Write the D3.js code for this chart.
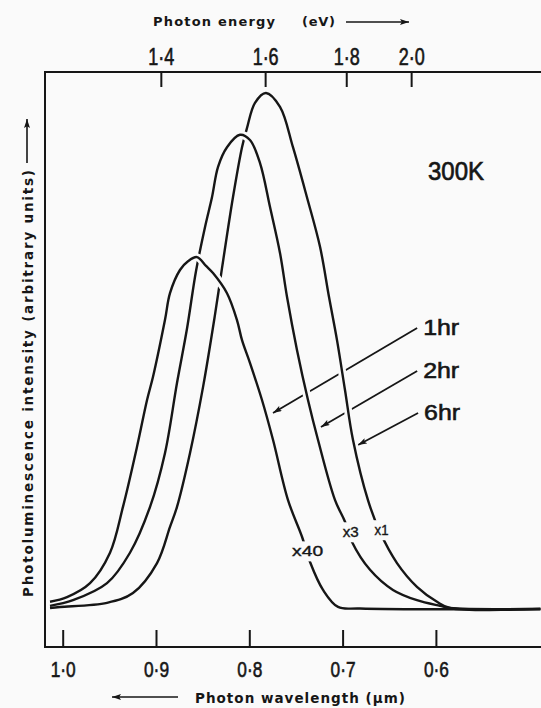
<!DOCTYPE html>
<html><head><meta charset="utf-8">
<script src="https://cdn.jsdelivr.net/npm/d3@7"></script>
<style>
html,body{margin:0;padding:0;background:#fafafa;}
svg{display:block;}
</style></head><body>
<svg id="c" width="541" height="708"></svg>
<script>
// ---------- data ----------
const wavelengthTicks = [1.0, 0.9, 0.8, 0.7, 0.6];
const wavelengthTickLabels = ["1·0", "0·9", "0·8", "0·7", "0·6"];
const energyTicks = [1.4, 1.6, 1.8, 2.0];
const energyTickLabels = ["1·4", "1·6", "1·8", "2·0"];
const seriesNames = ["6hr", "2hr", "1hr"];
const seriesMultipliers = ["x1", "x3", "x40"];

// 6 hr anneal (x1)
const wl6hr  = [1.0136, 1.0029, 0.9525, 0.9247, 0.8989, 0.8850, 0.8775, 0.8636, 0.8496, 0.8368, 0.8293, 0.8175, 0.8078, 0.8025, 0.7939, 0.7821, 0.7671, 0.7532, 0.7382, 0.7242, 0.7146, 0.7060, 0.6974, 0.6889, 0.6728, 0.6599, 0.6417, 0.6203, 0.5988, 0.5849, 0.488];
const int6hr = [0.2, 0.4, 1.2, 3.1, 8.9, 15.9, 19.8, 30.2, 43.0, 57.0, 66.0, 79.8, 89.5, 93.2, 98.1, 100, 97.3, 89.5, 79.8, 70.2, 60.5, 52.1, 42.4, 32.8, 21.1, 14.9, 8.9, 4.3, 1.4, 0.2, 0];

// 2 hr anneal (x3)
const wl2hr  = [1.0136, 0.9890, 0.9525, 0.9279, 0.9064, 0.8904, 0.8775, 0.8668, 0.8571, 0.8475, 0.8400, 0.8335, 0.8239, 0.8100, 0.7993, 0.7885, 0.7778, 0.7671, 0.7596, 0.7489, 0.7371, 0.7264, 0.7081, 0.6974, 0.6899, 0.6706, 0.6460, 0.6203, 0.5956, 0.5849, 0.488];
const int2hr = [0.6, 1.7, 5.0, 10.9, 19.8, 30.2, 43.8, 54.3, 65.5, 74.0, 79.8, 85.7, 89.5, 91.9, 90.9, 86.4, 77.9, 69.0, 60.5, 50.2, 40.5, 32.8, 21.1, 16.9, 13.0, 7.6, 3.7, 1.7, 0.6, 0.2, 0];

// 1 hr anneal (x40)
const wl1hr  = [1.0136, 0.9954, 0.9707, 0.9493, 0.9354, 0.9204, 0.9096, 0.9032, 0.8904, 0.8850, 0.8743, 0.8657, 0.8561, 0.8464, 0.8389, 0.8239, 0.8132, 0.8078, 0.7993, 0.7864, 0.7746, 0.7585, 0.7435, 0.7349, 0.7210, 0.7049, 0.6813, 0.488];
const int1hr = [1.4, 2.3, 5.0, 10.9, 19.8, 31.4, 40.5, 45.0, 56.0, 61.2, 65.7, 67.4, 68.2, 66.5, 65.1, 61.2, 56.0, 52.1, 47.7, 40.5, 32.8, 21.1, 14.0, 9.1, 3.7, 0.4, 0.1, 0];

// annotation anchors (wavelength, intensity): arrow tail -> tip on curve
const arrowTailWl = [0.6191, 0.6201, 0.6201];
const arrowTailI  = [37.98, 46.12, 54.46];
const arrowTipWl  = [0.6835, 0.7232, 0.7746];
const arrowTipI   = [31.78, 35.27, 37.98];

const hcScale = 1.252; // eV·µm relation as drawn on the top axis

// ---------- layout ----------
const W = 541, H = 708;
const frame = {left: 45, top: 72, bottom: 647, right: 541};
const ink = "#161616";
const numFont = "'Liberation Sans',Arial,sans-serif";
const titleFont = "'DejaVu Sans',sans-serif";
const labelFont = "'Liberation Sans',Arial,sans-serif";

const svg = d3.select("#c");
svg.append("rect").attr("width", W).attr("height", H).attr("fill", "#fafafa");

const x = d3.scaleLinear().domain([1.0, 0.6]).range([62.7, 435.9]);
const y = d3.scaleLinear().domain([0, 100]).range([609, 93]);

const defs = svg.append("defs");
defs.append("marker").attr("id", "ah")
  .attr("viewBox", "0 0 10 10").attr("refX", 10).attr("refY", 5)
  .attr("markerWidth", 9).attr("markerHeight", 6)
  .attr("markerUnits", "userSpaceOnUse").attr("orient", "auto")
  .attr("preserveAspectRatio", "none")
  .append("path").attr("d", "M0,0L10,5L0,10L2,5z").attr("fill", ink);

// frame
svg.append("path")
  .attr("d", `M${frame.right},${frame.top}H${frame.left}V${frame.bottom}H${frame.right}`)
  .attr("fill", "none").attr("stroke", ink).attr("stroke-width", 2);

// bottom axis (wavelength)
const gx = svg.append("g").attr("transform", `translate(0,${frame.bottom})`)
  .call(d3.axisBottom(x).tickValues(wavelengthTicks)
    .tickFormat((d, i) => wavelengthTickLabels[i])
    .tickSizeInner(-17).tickSizeOuter(0).tickPadding(14));
gx.select(".domain").remove();
gx.selectAll(".tick line").attr("stroke", ink).attr("stroke-width", 2);
gx.selectAll(".tick text").attr("font-family", numFont).attr("font-size", 22)
  .attr("fill", ink).attr("stroke", ink).attr("stroke-width", 0.6)
  .attr("textLength", 25).attr("lengthAdjust", "spacingAndGlyphs");

// top axis (photon energy)
const gt = svg.append("g");
const et = gt.selectAll("g").data(energyTicks).join("g")
  .attr("transform", d => `translate(${x(hcScale / d)},${frame.top})`);
et.append("line").attr("y1", 0).attr("y2", 15).attr("stroke", ink).attr("stroke-width", 2);
et.append("text").attr("y", -7).attr("text-anchor", "middle")
  .attr("font-family", numFont).attr("font-size", 23).attr("fill", ink)
  .attr("stroke", ink).attr("stroke-width", 0.6)
  .attr("textLength", 26).attr("lengthAdjust", "spacingAndGlyphs")
  .text((d, i) => energyTickLabels[i]);

// titles
svg.append("text").attr("x", 153).attr("y", 26)
  .attr("font-family", titleFont).attr("font-size", 13).attr("font-weight", "bold")
  .attr("fill", ink).attr("textLength", 122).attr("lengthAdjust", "spacing")
  .text("Photon energy");
svg.append("text").attr("x", 302).attr("y", 26)
  .attr("font-family", titleFont).attr("font-size", 13).attr("font-weight", "bold")
  .attr("fill", ink).attr("textLength", 33).attr("lengthAdjust", "spacing")
  .text("(eV)");
svg.append("line").attr("x1", 346).attr("y1", 22).attr("x2", 409).attr("y2", 22)
  .attr("stroke", ink).attr("stroke-width", 1.6).attr("marker-end", "url(#ah)");

svg.append("text").attr("x", 195).attr("y", 703)
  .attr("font-family", titleFont).attr("font-size", 13.5).attr("font-weight", "bold")
  .attr("fill", ink).attr("textLength", 210).attr("lengthAdjust", "spacing")
  .text("Photon wavelength (µm)");
svg.append("line").attr("x1", 178).attr("y1", 697).attr("x2", 112).attr("y2", 697)
  .attr("stroke", ink).attr("stroke-width", 1.6).attr("marker-end", "url(#ah)");

svg.append("text").attr("transform", "translate(33,597) rotate(-90)")
  .attr("font-family", titleFont).attr("font-size", 13.5).attr("font-weight", "bold")
  .attr("fill", ink).attr("textLength", 427).attr("lengthAdjust", "spacing")
  .text("Photoluminescence intensity (arbitrary units)");
svg.append("line").attr("x1", 27).attr("y1", 163).attr("x2", 27).attr("y2", 119)
  .attr("stroke", ink).attr("stroke-width", 1.6).attr("marker-end", "url(#ah)");

// temperature label
svg.append("text").attr("x", 428).attr("y", 180)
  .attr("font-family", labelFont).attr("font-size", 26).attr("fill", ink)
  .attr("stroke", ink).attr("stroke-width", 0.7)
  .attr("textLength", 56).attr("lengthAdjust", "spacingAndGlyphs")
  .text("300K");

// annotation arrows (drawn under curves)
const arrowsG = svg.append("g");
seriesNames.forEach((n, i) => {
  arrowsG.append("line")
    .attr("x1", x(arrowTailWl[i])).attr("y1", y(arrowTailI[i]))
    .attr("x2", x(arrowTipWl[i])).attr("y2", y(arrowTipI[i]))
    .attr("stroke", ink).attr("stroke-width", 1.8).attr("marker-end", "url(#ah)");
  arrowsG.append("text")
    .attr("x", x(arrowTailWl[i]) + 6).attr("y", y(arrowTailI[i]) + 7)
    .attr("font-family", labelFont).attr("font-size", 22).attr("fill", ink)
    .attr("stroke", ink).attr("stroke-width", 0.6)
    .attr("textLength", 36).attr("lengthAdjust", "spacingAndGlyphs")
    .text(n);
});

// curves
const series = [
  {name: seriesNames[0], mult: seriesMultipliers[0], wl: wl6hr, I: int6hr},
  {name: seriesNames[1], mult: seriesMultipliers[1], wl: wl2hr, I: int2hr},
  {name: seriesNames[2], mult: seriesMultipliers[2], wl: wl1hr, I: int1hr}
];
const line = d3.line().x(d => x(d[0])).y(d => y(d[1])).curve(d3.curveCatmullRom.alpha(0.5));
const curvesG = svg.append("g");
series.forEach(s => {
  const pts = s.wl.map((w, i) => [w, s.I[i]]);
  const halo = pts.filter(p => p[1] > 3);
  curvesG.append("path").attr("d", line(halo)).attr("fill", "none")
    .attr("stroke", "#fafafa").attr("stroke-width", 8).attr("stroke-linecap", "butt");
  curvesG.append("path").attr("d", line(pts)).attr("fill", "none")
    .attr("stroke", ink).attr("stroke-width", 2.4).attr("stroke-linejoin", "round");
});

// multiplier labels, sitting on the descending flanks
const multPos = [[0.6583, 14.3], [0.6913, 13.9], [0.7375, 10.2]];
const multLen = [14, 16, 31];
series.forEach((s, i) => {
  const g = svg.append("g");
  const t = g.append("text")
    .attr("x", x(multPos[i][0])).attr("y", y(multPos[i][1]))
    .attr("text-anchor", "middle")
    .attr("font-family", labelFont).attr("font-size", 15.5).attr("fill", ink)
    .attr("stroke", ink).attr("stroke-width", 0.4)
    .attr("textLength", multLen[i]).attr("lengthAdjust", "spacingAndGlyphs")
    .text(s.mult);
  const bb = t.node().getBBox();
  g.insert("rect", "text").attr("x", bb.x - 2).attr("y", bb.y - 1)
    .attr("width", bb.width + 4).attr("height", bb.height + 3).attr("fill", "#fafafa");
});
</script>
</body></html>
